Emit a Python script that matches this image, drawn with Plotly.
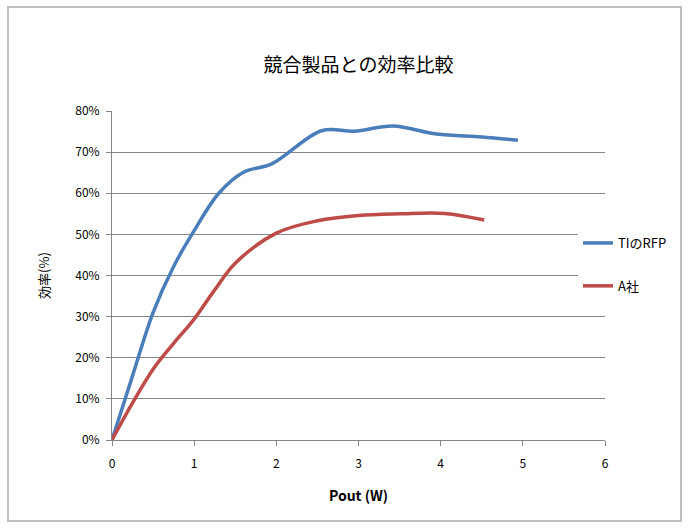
import plotly.graph_objects as go

# Data
ti_x = [0, 0.25, 0.5, 0.75, 1.0, 1.3, 1.6, 1.95, 2.55, 2.95, 3.42, 3.95, 4.5, 4.94]
ti_y = [0, 0.156, 0.31, 0.422, 0.509, 0.60, 0.651, 0.672, 0.752, 0.751, 0.7635, 0.744, 0.737, 0.729]

a_x = [0, 0.25, 0.5, 0.75, 1.0, 1.25, 1.5, 2.0, 2.5, 3.0, 3.5, 4.05, 4.53]
a_y = [0, 0.09, 0.172, 0.235, 0.294, 0.365, 0.43, 0.503, 0.533, 0.546, 0.550, 0.551, 0.535]

series_names = ["TIのRFP", "A社"]
series_colors = ["#4A7EBB", "#BE4B48"]

title_text = "競合製品との効率比較"
x_title = "Pout (W)"
y_title = "効率(%)"
x_ticks = [0, 1, 2, 3, 4, 5, 6]
y_ticks = [0, 0.1, 0.2, 0.3, 0.4, 0.5, 0.6, 0.7, 0.8]

FONT = "Noto Sans CJK JP, Liberation Sans, sans-serif"

fig = go.Figure()
for xs, ys, name, col in [(ti_x, ti_y, series_names[0], series_colors[0]),
                          (a_x, a_y, series_names[1], series_colors[1])]:
    fig.add_trace(go.Scatter(x=xs, y=ys, name=name, mode="lines", legendgroup=name,
                             line=dict(color=col, width=3.5, shape="spline", smoothing=1.0)))

fig.update_layout(
    width=690, height=529,
    margin=dict(l=112, r=85, t=111, b=89),
    paper_bgcolor="white", plot_bgcolor="white",
    font=dict(family=FONT, size=12, color="#000000"),
    title=dict(text=title_text, x=0.5, xanchor="center", xref="paper",
               y=1 - 65 / 529, yref="container", yanchor="middle",
               font=dict(family=FONT, size=19, color="#000000")),
    legend=dict(x=(578 - 112) / 493, xanchor="left", y=(440 - 228) / 329, yanchor="top",
                bgcolor="white", font=dict(family=FONT, size=13, color="#000000"),
                tracegroupgap=23, itemwidth=30),
    showlegend=True,
    shapes=[dict(type="rect", xref="paper", yref="paper",
                 x0=-(112 - 8) / 493, x1=(681 - 112) / 493,
                 y0=-(521 - 440) / 329, y1=(440 - 7) / 329,
                 line=dict(color="#BFBFBF", width=2), layer="below")],
)

fig.update_xaxes(range=[0, 6], tickvals=x_ticks, ticktext=[str(v) for v in x_ticks],
                 showgrid=False, zeroline=False, showline=True, linecolor="#868686", linewidth=1,
                 ticks="outside", ticklen=5, tickcolor="#868686", ticklabelstandoff=8,
                 tickfont=dict(family=FONT, size=12, color="#000000"),
                 title=dict(text="<b>" + x_title + "</b>", standoff=20,
                            font=dict(family=FONT, size=14, color="#000000")))
fig.update_yaxes(range=[0, 0.8], tickvals=y_ticks, tickformat=".0%",
                 showgrid=True, gridcolor="#868686", gridwidth=1, zeroline=False,
                 showline=True, linecolor="#868686", linewidth=1,
                 ticks="outside", ticklen=5, tickcolor="#868686", ticklabelstandoff=4,
                 tickfont=dict(family=FONT, size=12, color="#000000"),
                 title=dict(text=y_title, standoff=22,
                            font=dict(family=FONT, size=13, color="#000000")))

fig.write_html("out.html")
